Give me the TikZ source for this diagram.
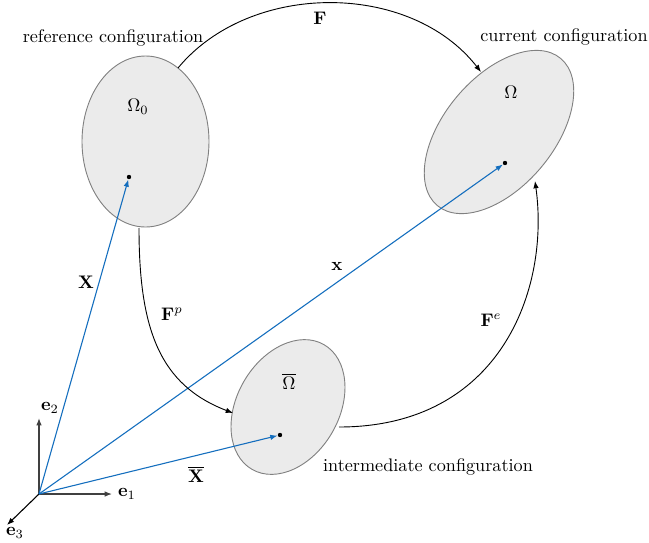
\documentclass[tikz,border=0pt]{standalone}
\usetikzlibrary{shapes.geometric,arrows.meta}
\definecolor{vecblue}{RGB}{20,110,190}
\definecolor{bodyfill}{RGB}{235,235,235}
\definecolor{bodyline}{RGB}{128,128,128}
\begin{document}
\begin{tikzpicture}[x=0.55pt,y=-0.55pt,
  body/.style={ellipse,draw=bodyline,fill=bodyfill,inner sep=0pt,line width=0.5pt},
  pt/.style={circle,fill=black,inner sep=0pt,minimum size=2.4pt},
  map/.style={draw=black,line width=0.5pt,-{Latex[length=4pt,width=3pt]}},
  vec/.style={draw=vecblue,line width=0.6pt,-{Latex[length=4pt,width=3pt]}},
  axis/.style={draw=black!75,line width=0.6pt,-{Latex[length=4pt,width=3pt]}},
  lbl/.style={inner sep=1pt}]
\useasboundingbox (0,0) rectangle (649,542);
% bodies
\node[body,minimum width=69.85pt,minimum height=94.05pt] (ref) at (145.5,141.5) {};
\node[body,minimum width=105.6pt,minimum height=60.5pt,rotate=50] (cur) at (499,132) {};
\node[body,minimum width=79.2pt,minimum height=56.1pt,rotate=60] (mid) at (288,407) {};
% labels in bodies
\node[lbl] (om0) at (138,107) {$\Omega_0$};
\node[lbl] (om) at (511,92) {$\Omega$};
\node[lbl] (omb) at (289,381) {$\overline{\Omega}$};
% configuration names
\node[lbl] (tref) at (113,38) {reference configuration};
\node[lbl] (tcur) at (564,37) {current configuration};
\node[lbl] (tmid) at (428,467) {intermediate configuration};
% points
\node[pt] (p0) at (129,177) {};
\node[pt] (p1) at (505,163) {};
\node[pt] (p2) at (280,435) {};
% basis
\coordinate (O) at (39,494);
\coordinate (e1e) at (112,494);
\coordinate (e2e) at (39,418);
\coordinate (e3e) at (7,525);
\draw[axis] (O) -- (e1e);
\draw[axis] (O) -- (e2e);
\draw[draw=black,line width=0.6pt,-{Latex[length=4pt,width=3pt]}] (O) -- (e3e);
\node[lbl] (l1) at (127,494) {$\mathbf{e}_1$};
\node[lbl] (l2) at (50,408) {$\mathbf{e}_2$};
\node[lbl] (l3) at (15,533) {$\mathbf{e}_3$};
% position vectors
\draw[vec] (O) -- (p0);
\draw[vec] (O) -- (p1);
\draw[vec] (O) -- (p2);
\node[lbl] (lX) at (86,282) {$\mathbf{X}$};
\node[lbl] (lx) at (337,266) {$\mathbf{x}$};
\node[lbl] (lXb) at (196,474) {$\overline{\mathbf{X}}$};
% maps
\coordinate (fs) at (178,68);
\coordinate (fe) at (481,72);
\draw[map] (fs) .. controls (250,-19) and (410,-19) .. (fe);
\node[lbl] (lF) at (320,18) {$\mathbf{F}$};
\coordinate (ps) at (139,228);
\coordinate (pe) at (233,413);
\draw[map] (ps) .. controls (139,330) and (160,385) .. (pe);
\node[lbl] (lFp) at (172,314) {$\mathbf{F}^p$};
\coordinate (es) at (339,427);
\coordinate (ee) at (535,181);
\draw[map] (es) .. controls (500,427) and (550,290) .. (ee);
\node[lbl] (lFe) at (491,320) {$\mathbf{F}^e$};
\end{tikzpicture}
\end{document}
